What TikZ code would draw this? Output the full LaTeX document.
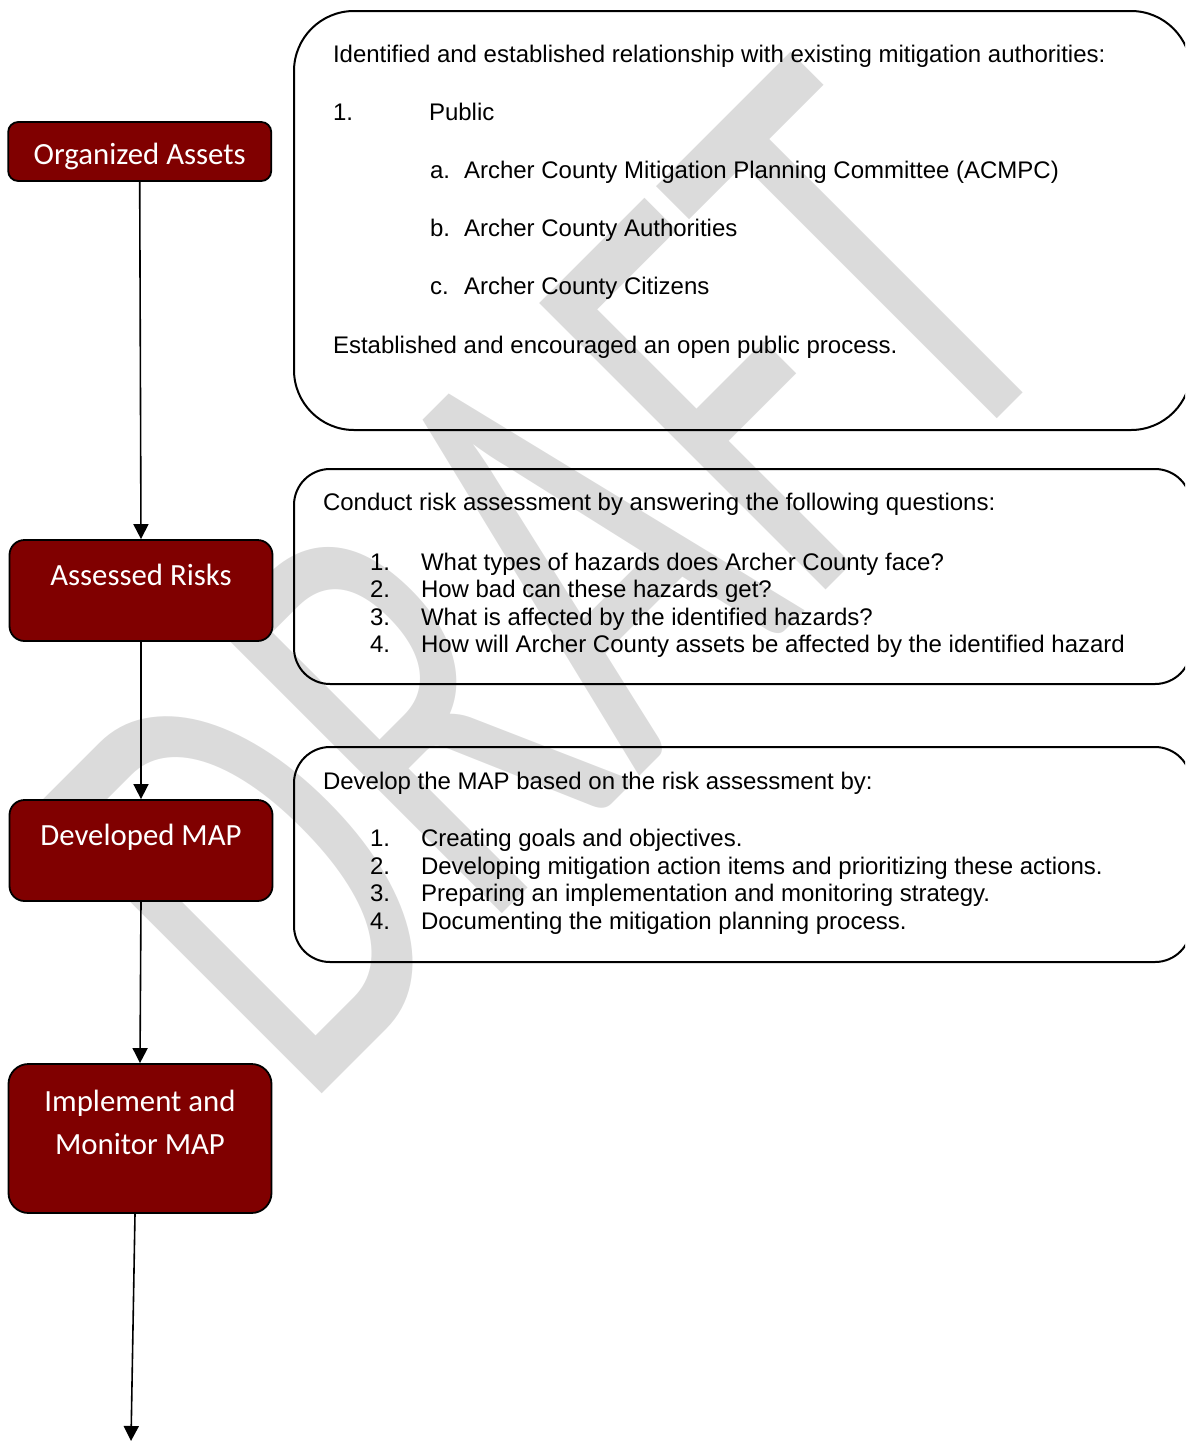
\documentclass[tikz,border=0pt]{standalone}
\usepackage{fontspec}
\setmainfont{Liberation Sans}
\newfontfamily\carlito{Carlito}
\usetikzlibrary{arrows.meta}
\definecolor{maroon}{HTML}{800000}
\definecolor{wmark}{HTML}{DBDBDB}
\tikzset{
  px/.style={x=0.5pt,y=-0.5pt,line width=1pt},
  stepbox/.style={draw=black,line width=0.9pt,fill=maroon,text=white,font=\carlito\fontsize{15.4}{21.5}\selectfont,align=center,inner sep=0pt,minimum width=131.5pt},
  notebox/.style={draw=black,line width=1pt,inner sep=0pt,anchor=north west,minimum width=448.5pt},
  txt/.style={anchor=base west,inner sep=0pt,font=\fontsize{12}{14}\selectfont},
  flow/.style={-{Triangle[width=7.5pt,length=7.5pt]},line width=0.8pt},
}
\begin{document}
\begin{tikzpicture}[px]
  \useasboundingbox (0,0) rectangle (1185,1441);
  \clip (0,0) rectangle (1185,1441);
  % watermark
  \node[anchor=base,inner sep=0pt,text=wmark,font=\carlito\fontsize{205}{205}\selectfont,rotate=45,yscale=1.54] (draft) at (692,724) {DRAFT};

  % notes on the right
  \node[notebox,rounded corners=30pt,minimum height=209.5pt] (authorities) at (293,10) {};
  \node[notebox,rounded corners=18pt,minimum height=107.5pt] (questions) at (293,468) {};
  \node[notebox,rounded corners=18pt,minimum height=107.5pt] (actions) at (293,746) {};

  \node[txt] (b1-head) at (332,62) {Identified and established relationship with existing mitigation authorities:};
  \node[txt] (b1-num) at (332,120) {1.};
  \node[txt] (b1-pub) at (428,120) {Public};
  \foreach \l/\t [count=\k] in {a/Archer County Mitigation Planning Committee (ACMPC),b/Archer County Authorities,c/Archer County Citizens}{
    \node[txt] (b1-\l) at (429,120+58.3*\k) {\l.};
    \node[txt] (b1-\l-t) at (463,120+58.3*\k) {\t};}
  \node[txt] (b1-foot) at (332,353) {Established and encouraged an open public process.};

  \node[txt] (b2-head) at (322,510) {Conduct risk assessment by answering the following questions:};
  \foreach \t [count=\k] in {What types of hazards does Archer County face?,How bad can these hazards get?,What is affected by the identified hazards?,How will Archer County assets be affected by the identified hazard}{
    \node[txt] (b2-n\k) at (369,542.5+27.5*\k) {\k.};
    \node[txt] (b2-q\k) at (420,542.5+27.5*\k) {\t};}

  \node[txt] (b3-head) at (322,789) {Develop the MAP based on the risk assessment by:};
  \foreach \t [count=\k] in {Creating goals and objectives.,Developing mitigation action items and prioritizing these actions.,Preparing an implementation and monitoring strategy.,Documenting the mitigation planning process.}{
    \node[txt] (b3-n\k) at (369,819.2+27.5*\k) {\k.};
    \node[txt] (b3-a\k) at (420,819.2+27.5*\k) {\t};}

  % steps
  \node[stepbox,rounded corners=5pt,text height=21pt,text depth=8.5pt] (assets) at (139.7,151.5) {Organized Assets};
  \node[stepbox,rounded corners=7.5pt,text height=22.5pt,text depth=28pt] (risks) at (141,590.5) {Assessed Risks};
  \node[stepbox,rounded corners=7.5pt,text height=22.5pt,text depth=28pt] (map) at (141,850.5) {Developed MAP};
  \node[stepbox,rounded corners=10pt,text height=45pt,text depth=29.5pt] (monitor) at (140,1138.5) {Implement and\\Monitor MAP};
  \coordinate (next) at (131,1441);

  \draw[flow] (assets.south) -- (risks.north);
  \draw[flow] (risks.south) -- (map.north);
  \draw[flow] (map.south) -- (monitor.north);
  \draw[flow] ([xshift=-2.5pt]monitor.south) -- (next);
\end{tikzpicture}
\end{document}
